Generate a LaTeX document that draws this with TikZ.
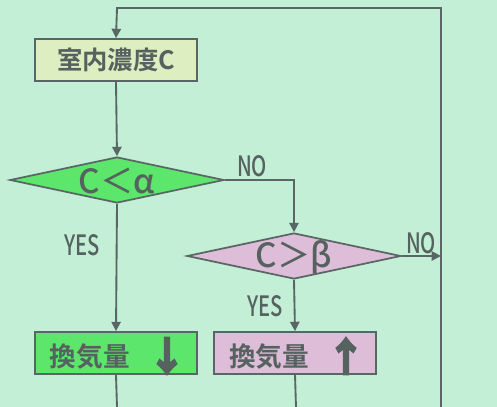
\documentclass[tikz,border=0pt]{standalone}
\usepackage{fontspec}
\newfontfamily\jpb{Noto Sans CJK JP Bold}
\newfontfamily\jpm{Noto Sans CJK JP Medium}
\newfontfamily\jpa[FakeBold=4]{Noto Sans CJK JP Black}
\newfontfamily\jpn[FakeStretch=0.72]{Noto Sans CJK JP Medium}
\usetikzlibrary{arrows.meta,shapes.geometric}
\definecolor{bg}{HTML}{C3EFD7}
\definecolor{ln}{HTML}{5A6665}
\definecolor{tx}{HTML}{56625F}
\definecolor{ybox}{HTML}{DDEEC0}
\definecolor{gbox}{HTML}{5CE66B}
\definecolor{pbox}{HTML}{DDBDD8}
\tikzset{
  line/.style={draw=ln,line width=1.4pt},
  arr/.style={line,-{Triangle[length=7pt,width=7pt]}},
  boxs/.style={draw=ln,line width=1.3pt,minimum width=121.5pt,minimum height=31.5pt,inner sep=0pt,text=tx,font=\jpb\fontsize{19pt}{19pt}\selectfont},
  dia/.style={draw=ln,line width=1.3pt,diamond,aspect=4.65,minimum width=160.5pt,minimum height=34.5pt,inner sep=0pt},
  dtx/.style={text=tx,inner sep=0pt,font=\jpm\fontsize{25pt}{25pt}\selectfont},
  lab/.style={text=tx,inner sep=0pt,font=\jpn\fontsize{21pt}{21pt}\selectfont},
  btx/.style={text=tx,inner sep=0pt,font=\jpb\fontsize{20pt}{20pt}\selectfont},
  barr/.style={text=tx,inner sep=0pt,font=\jpa\fontsize{30pt}{30pt}\selectfont}
}
\begin{document}
\begin{tikzpicture}[x=0.75pt,y=-0.75pt]
\fill[bg] (0,0) rectangle (497,407);
\useasboundingbox (0,0) rectangle (497,407);
\node[boxs,fill=ybox] (top) at (116,60) {室内濃度C};
\node[dia,fill=gbox] (d1) at (117,180) {};
\node[dia,fill=pbox] (d2) at (294,256) {};
\node[dtx] (d1t) at (117,181) {C＜α};
\node[dtx] (d2t) at (294,257) {C＞β};
\node[boxs,fill=gbox] (g) at (116,353) {};
\node[boxs,fill=pbox] (p) at (295,353) {};
\node[btx] (gt) at (90,357) {換気量};
\node[btx] (pt) at (269,357) {換気量};
\node[barr] (ga) at (167,356) {↓};
\node[barr] (pa) at (346,356) {↑};
\node[lab] (no1) at (252,166) {NO};
\node[lab] (no2) at (421,243) {NO};
\node[lab] (y1) at (82,245) {YES};
\node[lab] (y2) at (265,306) {YES};
\coordinate (c1) at (441,407);
\coordinate (c2) at (441,8);
\coordinate (c3) at (117,8);
\coordinate (gb) at (117,407);
\coordinate (pb) at (296,407);
\draw[arr] (c1) -- (c2) -- (c3) -- (top.north);
\draw[arr] (top.south) -- (d1.north);
\draw[arr] (d1.east) -| (d2.north);
\draw[arr] (d2.east) -- (d2.east -| c1);
\draw[arr] (d1.south) -- (g.north);
\draw[arr] (d2.south) -- (p.north);
\draw[line] (g.south) -- (gb);
\draw[line] (p.south) -- (pb);
\end{tikzpicture}
\end{document}
